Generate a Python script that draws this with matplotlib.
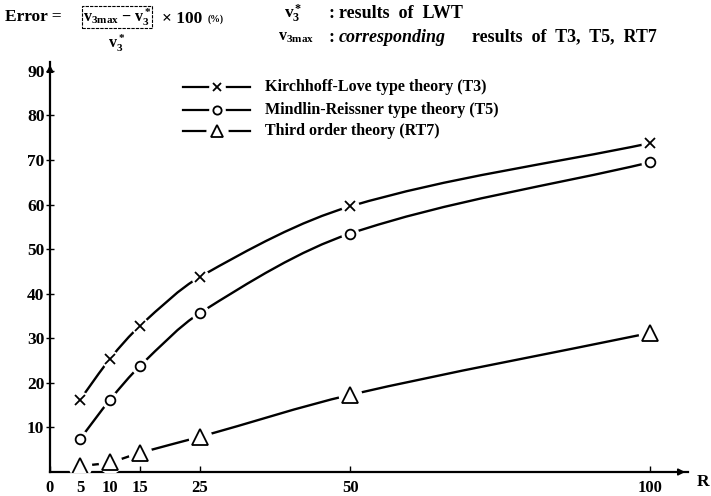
import matplotlib
matplotlib.use("Agg")
import matplotlib.pyplot as plt
from matplotlib.path import Path
from matplotlib.patches import PathPatch

plt.rcParams['font.family'] = ['Liberation Serif', 'DejaVu Serif']
plt.rcParams['font.weight'] = 'bold'
plt.rcParams['mathtext.fontset'] = 'custom'
plt.rcParams['mathtext.rm'] = 'Liberation Serif:bold'
plt.rcParams['mathtext.it'] = 'Liberation Serif:bold'
plt.rcParams['mathtext.bf'] = 'Liberation Serif:bold'

R = [5, 10, 15, 25, 50, 100]
t3 = [16.2, 25.4, 32.8, 43.8, 59.6, 73.8]
t5 = [7.4, 16.2, 23.8, 35.7, 53.5, 69.5]
rt7 = [1.3, 2.2, 4.3, 7.9, 17.3, 31.2]
series_labels = ["Kirchhoff-Love type theory (T3)",
                 "Mindlin-Reissner type theory (T5)",
                 "Third order theory (RT7)"]
xticks = [0, 5, 10, 15, 25, 50, 100]
yticks = [10, 20, 30, 40, 50, 60, 70, 80, 90]

fig = plt.figure(figsize=(7.11, 4.96), dpi=100)
ax = fig.add_axes([50/711, 24/496, 638/711, 410/496])
ax.set_xlim(0, 106.3)
ax.set_ylim(0, 92)


def smooth_path(xs, ys):
    # Catmull-Rom style spline through the data points, drawn as cubic Bezier segments
    verts = [(xs[0], ys[0])]
    codes = [Path.MOVETO]
    n = len(xs)
    for i in range(n - 1):
        x0, y0 = (xs[i - 1], ys[i - 1]) if i > 0 else (xs[i], ys[i])
        x1, y1 = xs[i], ys[i]
        x2, y2 = xs[i + 1], ys[i + 1]
        x3, y3 = (xs[i + 2], ys[i + 2]) if i + 2 < n else (xs[i + 1], ys[i + 1])
        h = x2 - x1
        m1 = (y2 - y0) / (x2 - x0) if x2 != x0 else 0
        m2 = (y3 - y1) / (x3 - x1) if x3 != x1 else 0
        if i == 0:
            m1 = (y2 - y1) / h
        if i + 2 >= n:
            m2 = (y2 - y1) / h
        verts += [(x1 + h / 3, y1 + m1 * h / 3), (x2 - h / 3, y2 - m2 * h / 3), (x2, y2)]
        codes += [Path.CURVE4] * 3
    return Path(verts, codes)


styles = [('x', 7, 1.3), ('o', 7, 1.3), ('^', 11, 1.3)]
for ys, (m, ms, mew) in zip([t3, t5, rt7], styles):
    ax.add_patch(PathPatch(smooth_path(R, ys), fc='none', ec='black', lw=1.7, zorder=2))
    ax.plot(R, ys, ls='none', marker='o', ms=ms + 6, mfc='white', mec='none', zorder=3)
    ax.plot(R, ys, ls='none', marker=m, ms=ms, mfc='white', mec='black', mew=mew, zorder=4)

for s in ['top', 'right']:
    ax.spines[s].set_visible(False)
for s in ['left', 'bottom']:
    ax.spines[s].set_linewidth(1.6)

ax.set_xticks(xticks)
ax.set_xticklabels([str(v) for v in xticks], fontsize=12, fontweight='bold')
ax.set_yticks(yticks)
ax.set_yticklabels([str(v) for v in yticks], fontsize=12.5, fontweight='bold')
ax.tick_params(axis='x', direction='in', length=4, width=1, pad=6)
ax.tick_params(axis='y', direction='inout', length=6, width=1, pad=1)
# arrows
ax.annotate('', xy=(1.0, 0), xycoords='axes fraction', xytext=(0.98, 0),
            arrowprops=dict(arrowstyle='-|>', color='black', lw=1.2, mutation_scale=10))
ax.annotate('', xy=(0, 1.0), xycoords='axes fraction', xytext=(0, 0.98),
            arrowprops=dict(arrowstyle='-|>', color='black', lw=1.2, mutation_scale=10))
fig.text(697/711, 1 - 490/496, 'R', fontsize=12.5, fontweight='bold', ha='left', va='bottom')

# legend
ly = [87, 110, 131]
for yy, (m, ms, mew), lab in zip(ly, styles, series_labels):
    yf = 1 - yy / 496
    fig.add_artist(plt.Line2D([183/711, 250/711], [yf, yf], color='black', lw=1.6, zorder=2))
    fig.add_artist(plt.Line2D([216.5/711], [yf], ls='none', marker='o', ms=ms + 5,
                              mfc='white', mec='none', zorder=3))
    fig.add_artist(plt.Line2D([216.5/711], [yf], ls='none', marker=m, ms=ms * 0.85,
                              mfc='white', mec='black', mew=mew, zorder=4))
    fig.text(265/711, yf, lab, fontsize=11.5, fontweight='bold', va='center', ha='left')

# header formula
fig.text(5/711, 1 - 17/496, 'Error =', fontsize=12.5, fontweight='bold', va='center')
fig.text(117/711, 1 - 17/496, r'v$_{3\mathrm{max}}$ − v$_3^*$', fontsize=11.5,
         fontweight='bold', va='center', ha='center',
         bbox=dict(boxstyle='square,pad=0.05', fc='none', ec='black', lw=0.8, ls=(0, (3, 1))))
fig.text(117/711, 1 - 43/496, r'v$_3^*$', fontsize=11.5, fontweight='bold', va='center', ha='center')
fig.text(162/711, 1 - 19/496, '× 100', fontsize=12.5, fontweight='bold', va='center')
fig.text(208/711, 1 - 19/496, '(%)', fontsize=7, fontweight='bold', va='center')

fig.text(284/711, 1 - 14/496, r'v$_3^*$', fontsize=12.5, fontweight='bold', va='center')
fig.text(329/711, 1 - 14/496, ':', fontsize=13, fontweight='bold', va='center')
fig.text(339/711, 1 - 14/496, 'results  of  LWT', fontsize=13, fontweight='bold', va='center')
fig.text(278/711, 1 - 37/496, r'v$_{3\mathrm{max}}$', fontsize=11.5, fontweight='bold', va='center')
fig.text(329/711, 1 - 37/496, ':', fontsize=13, fontweight='bold', va='center')
fig.text(339/711, 1 - 37/496, 'corresponding', fontsize=13, fontweight='bold',
         style='italic', va='center')
fig.text(472/711, 1 - 37/496, 'results  of  T3,  T5,  RT7', fontsize=13, fontweight='bold',
         va='center')

fig.savefig('out.png', dpi=100)
